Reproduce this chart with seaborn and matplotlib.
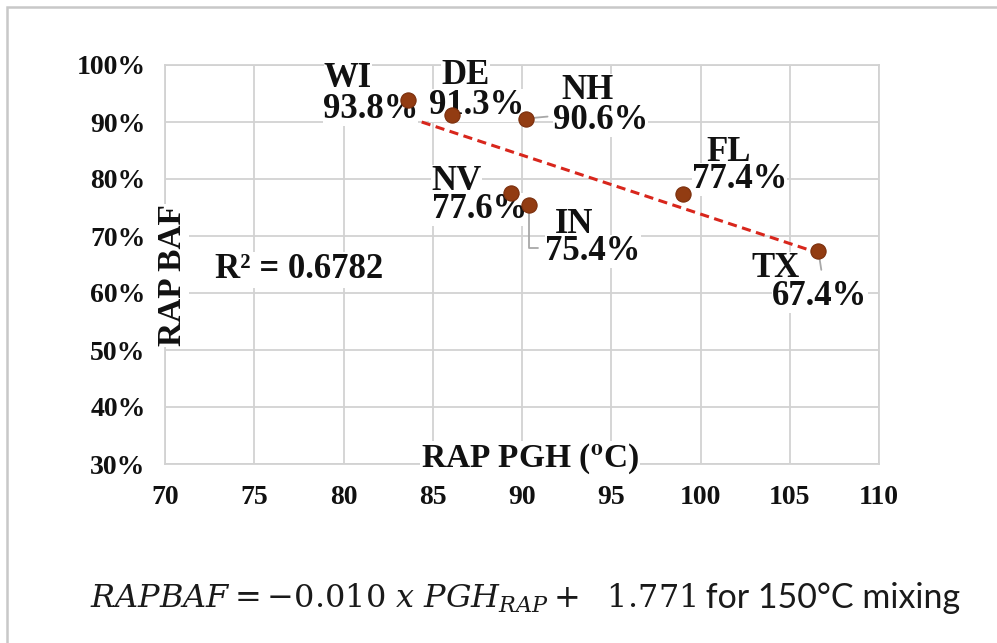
import matplotlib
matplotlib.use("Agg")
import matplotlib.pyplot as plt
import seaborn as sns
import pandas as pd
import numpy as np
from matplotlib.ticker import PercentFormatter
from matplotlib.patches import Rectangle

# ---------------- data ----------------
states = ["WI", "DE", "NH", "NV", "IN", "FL", "TX"]
pgh = [83.6, 86.1, 90.2, 89.4, 90.4, 99.0, 106.6]
baf = [0.938, 0.913, 0.906, 0.776, 0.754, 0.774, 0.674]
x_ticks = [70, 75, 80, 85, 90, 95, 100, 105, 110]
y_ticks = [0.3, 0.4, 0.5, 0.6, 0.7, 0.8, 0.9, 1.0]
r2_text = "R² = 0.6782"
x_title = r"RAP PGH ($^{\mathbf{o}}$C)"
y_title = "RAP BAF"
eq_math = r"$RAPBAF = -0.010\ x\ PGH_{RAP} +\ \ 1.771$"
eq_tail = " for 150°C mixing"

# label offsets in pixels (name dx, name dy, value dx, value dy), relative to point
label_offsets = {
    "WI": (-84, 13, -85, -18),
    "DE": (-11, 31, -23, 1),
    "NH": (36, 20, 27, -10),
    "NV": (-80, 3, -79, -25),
    "IN": (26, -28, 16, -55),
    "FL": (24, 33, 9, 6),
    "TX": (-67, -26, -46, -54),
}
# leader lines (pixel offsets from the point)
leaders = {
    "NH": [(0, 0), (22, 2)],
    "IN": [(0, 0), (0, -43), (9, -43)],
    "TX": [(0, 0), (3, -19)],
}

df = pd.DataFrame({"state": states, "pgh": pgh, "baf": baf})

# ---------------- style ----------------
sns.set_theme(style="white")
plt.rcParams["font.family"] = ["Liberation Serif", "DejaVu Serif"]
plt.rcParams["mathtext.fontset"] = "stix"

W, H = 997, 643
fig = plt.figure(figsize=(W / 100, H / 100), dpi=100)
fig.patch.set_facecolor("white")

# outer light-gray frame (only top/left visible)
fig.patches.append(Rectangle((7 / W, -0.1), 1.2, 1 - 7 / H + 0.1, transform=fig.transFigure,
                             fill=False, edgecolor="#C8C8C8", linewidth=1.8, zorder=0))

left, right, top, bottom = 165, 879, 65, 464
ax = fig.add_axes([left / W, 1 - bottom / H, (right - left) / W, (bottom - top) / H])
ax.set_facecolor("white")

grid_c = "#D2D2D2"
ax.set_xlim(70, 110)
ax.set_ylim(0.3, 1.0)
ax.set_xticks(x_ticks)
ax.set_yticks(y_ticks)
ax.yaxis.set_major_formatter(PercentFormatter(xmax=1, decimals=0))
ax.grid(True, color=grid_c, linewidth=1.3, zorder=0)
ax.set_axisbelow(True)
for s in ax.spines.values():
    s.set_color(grid_c)
    s.set_linewidth(1.3)
ax.tick_params(axis="both", length=0, labelsize=20, labelcolor="#111111")
ax.tick_params(axis="y", pad=14)
ax.tick_params(axis="x", pad=15)
for lab in ax.get_xticklabels() + ax.get_yticklabels():
    lab.set_fontweight("bold")

# trend line
sns.regplot(data=df, x="pgh", y="baf", scatter=False, ci=None, truncate=True, ax=ax,
            line_kws=dict(color="#D8261C", linewidth=2.2, linestyle=(0, (3, 1.8)), zorder=3))

# leader lines
fig.canvas.draw()
for st, pts in leaders.items():
    i = states.index(st)
    px, py = ax.transData.transform((pgh[i], baf[i]))
    disp = np.array([(px + dx, py + dy) for dx, dy in pts])
    dat = ax.transData.inverted().transform(disp)
    ax.plot(dat[:, 0], dat[:, 1], color="#A8A8A8", linewidth=1.3, zorder=3)

# points
sns.scatterplot(data=df, x="pgh", y="baf", ax=ax, s=120, color="#923C12",
                edgecolor="#7A2E0C", linewidth=0.8, zorder=5, legend=False)
ax.set_xlabel("")
ax.set_ylabel("")

# data labels
bb = dict(facecolor="white", edgecolor="none", pad=0)
for st, xv, yv in zip(states, pgh, baf):
    ndx, ndy, vdx, vdy = label_offsets[st]
    ax.annotate(st, (xv, yv), xytext=(ndx, ndy), textcoords="offset pixels",
                ha="left", va="baseline", fontsize=25, fontweight="bold",
                color="#111111", bbox=bb, zorder=4)
    ax.annotate(f"{yv * 100:.1f}%", (xv, yv), xytext=(vdx, vdy), textcoords="offset pixels",
                ha="left", va="baseline", fontsize=25, fontweight="bold",
                color="#111111", bbox=bb, zorder=4)

# R² text
ax.text(72.8, 0.626, r2_text, ha="left", va="baseline", fontsize=25, fontweight="bold",
        color="#111111", bbox=dict(facecolor="white", edgecolor="none", pad=1), zorder=4)

# axis titles (overlaid on the plot, as in the original)
fig.text(530 / W, 1 - 459 / H, x_title, ha="center", va="center", fontsize=24,
         fontweight="bold", color="#111111",
         bbox=dict(facecolor="white", edgecolor="none", pad=0.5), zorder=6)
fig.text(172.5 / W, 1 - 275.5 / H, y_title, ha="center", va="center", rotation=90,
         fontsize=24, fontweight="bold", color="#111111",
         bbox=dict(facecolor="white", edgecolor="none", pad=0.5), zorder=6)

# equation below
t1 = fig.text(90 / W, 1 - 608 / H, eq_math, ha="left", va="baseline", fontsize=23,
              math_fontfamily="dejavuserif", color="#1A1A1A")
fig.canvas.draw()
ext = t1.get_window_extent()
fig.text((ext.x1 + 1) / W, 1 - 608 / H, eq_tail, ha="left", va="baseline", fontsize=24.5,
         family=["Lato", "DejaVu Sans"], color="#1A1A1A")

fig.savefig("out.png", dpi=100, facecolor="white")
